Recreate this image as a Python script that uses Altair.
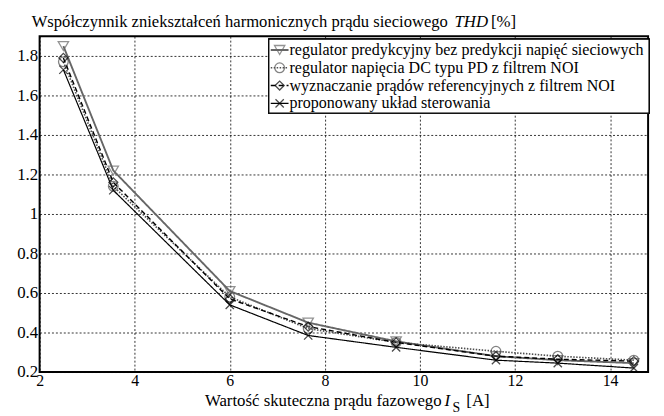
import altair as alt
import pandas as pd

current = [2.5, 3.55, 6.0, 7.65, 9.5, 11.6, 12.9, 14.5]
series_names = [
    "regulator predykcyjny bez predykcji napięć sieciowych",
    "regulator napięcia DC typu PD z filtrem NOI",
    "wyznaczanie prądów referencyjnych z filtrem NOI",
    "proponowany układ sterowania",
]
thd_predictive = [1.85, 1.22, 0.61, 0.45, 0.355, 0.28, 0.26, 0.245]
thd_pd_noi = [1.77, 1.14, 0.58, 0.42, 0.35, 0.305, 0.28, 0.26]
thd_ref_noi = [1.79, 1.16, 0.57, 0.43, 0.35, 0.28, 0.265, 0.255]
thd_proposed = [1.73, 1.12, 0.54, 0.385, 0.325, 0.26, 0.245, 0.22]
x_ticks = [2, 4, 6, 8, 10, 12, 14]
y_ticks = [0.2, 0.4, 0.6, 0.8, 1.0, 1.2, 1.4, 1.6, 1.8]

rows = []
for name, vals in zip(series_names, [thd_predictive, thd_pd_noi, thd_ref_noi, thd_proposed]):
    for xv, yv in zip(current, vals):
        rows.append({"series": name, "I": xv, "THD": yv})
df = pd.DataFrame(rows)
leg = pd.DataFrame({"series": series_names, "idx": list(range(len(series_names)))})

FONT = "Liberation Serif"
W, H = 616, 340

color_sc = alt.Scale(domain=series_names, range=["#666666", "#505050", "#000000", "#000000"])
dash_sc = alt.Scale(domain=series_names, range=[[1, 0], [1.5, 1.5], [5, 3], [1, 0]])
shape_sc = alt.Scale(domain=series_names,
                     range=["triangle-down", "circle", "diamond", "M-1,-1L1,1M-1,1L1,-1"])
sw_sc = alt.Scale(domain=series_names, range=[1.9, 1.2, 1.3, 1.6])
size_sc = alt.Scale(domain=series_names, range=[110, 70, 90, 45])

xs = alt.Scale(domain=[2, 14.8], nice=False, zero=False)
ys = alt.Scale(domain=[0.2, 1.9], nice=False, zero=False)

x_enc = alt.X("I:Q", scale=xs, axis=alt.Axis(values=x_ticks, title=None, grid=True, ticks=False,
                                               labelFont=FONT, labelFontSize=16, labelColor="black",
                                               labelPadding=1, domain=False, gridDash=[2, 2],
                                               gridColor="black", gridWidth=0.8, labelFlush=False))
y_enc = alt.Y("THD:Q", scale=ys, axis=alt.Axis(values=y_ticks, title=None, grid=True, ticks=False,
                                                 labelFont=FONT, labelFontSize=17, labelColor="black",
                                                 labelPadding=2, domain=False, format="~g",
                                                 gridDash=[2, 2], gridColor="black", gridWidth=0.8,
                                                 labelFlush=False))

lines = alt.Chart(df).mark_line().encode(
    x=x_enc, y=y_enc,
    color=alt.Color("series:N", scale=color_sc, legend=None),
    strokeDash=alt.StrokeDash("series:N", scale=dash_sc, legend=None),
    strokeWidth=alt.StrokeWidth("series:N", scale=sw_sc, legend=None),
)
points = alt.Chart(df).mark_point(filled=False, strokeWidth=1.3).encode(
    x="I:Q", y="THD:Q",
    color=alt.Color("series:N", scale=color_sc, legend=None),
    shape=alt.Shape("series:N", scale=shape_sc, legend=None),
    size=alt.Size("series:N", scale=size_sc, legend=None),
)

# legend (drawn by hand inside the plot)
box = alt.Chart(leg).mark_rect(fill="white", stroke="black", strokeWidth=1.3).encode(
    x=alt.value(232), x2=alt.value(617), y=alt.value(3), y2=alt.value(78)
)
leg_base = alt.Chart(leg).transform_calculate(ly="14 + 18 * datum.idx")
leg_lines = leg_base.mark_rule().encode(
    x=alt.value(234), x2=alt.value(252), y=alt.Y("ly:Q", scale=None),
    color=alt.Color("series:N", scale=color_sc, legend=None),
    strokeDash=alt.StrokeDash("series:N", scale=dash_sc, legend=None),
    strokeWidth=alt.StrokeWidth("series:N", scale=sw_sc, legend=None),
)
leg_pts = leg_base.mark_point(filled=False, strokeWidth=1.3).encode(
    x=alt.value(243), y=alt.Y("ly:Q", scale=None),
    color=alt.Color("series:N", scale=color_sc, legend=None),
    shape=alt.Shape("series:N", scale=shape_sc, legend=None),
    size=alt.Size("series:N", scale=size_sc, legend=None),
)
leg_txt = leg_base.mark_text(align="left", baseline="middle", font=FONT, fontSize=16.2,
                             color="black").encode(
    x=alt.value(253), y=alt.Y("ly:Q", scale=None), text="series:N"
)

# titles as text pieces
def txt(s, x, y, italic=False, size=16, align="left"):
    return alt.Chart(leg.head(1)).mark_text(
        align=align, baseline="alphabetic", font=FONT, fontSize=size, color="black",
        fontStyle="italic" if italic else "normal"
    ).encode(x=alt.value(x), y=alt.value(y), text=alt.value(s))

title_parts = [
    txt("Współczynnik zniekształceń harmonicznych prądu sieciowego", -8, -9, size=16.8),
    txt("THD", 420, -9, italic=True, size=17),
    txt("[%]", 457, -9, size=17),
    txt("Wartość skuteczna prądu fazowego", 407, 374, align="right", size=17),
    txt("I", 410, 374, italic=True, size=17),
    txt("S", 418, 380, size=14),
    txt("[A]", 432, 374, size=17),
]

chart = alt.layer(lines, points, box, leg_lines, leg_pts, leg_txt, *title_parts).properties(
    width=W, height=H,
    background="white",
    autosize=alt.AutoSizeParams(type="none"),
    padding={"left": 32, "top": 26, "right": 8, "bottom": 42},
).configure(font=FONT).configure_view(stroke="black", strokeWidth=2)

chart.save("out.html", embed_options={"renderer": "svg", "actions": False})
